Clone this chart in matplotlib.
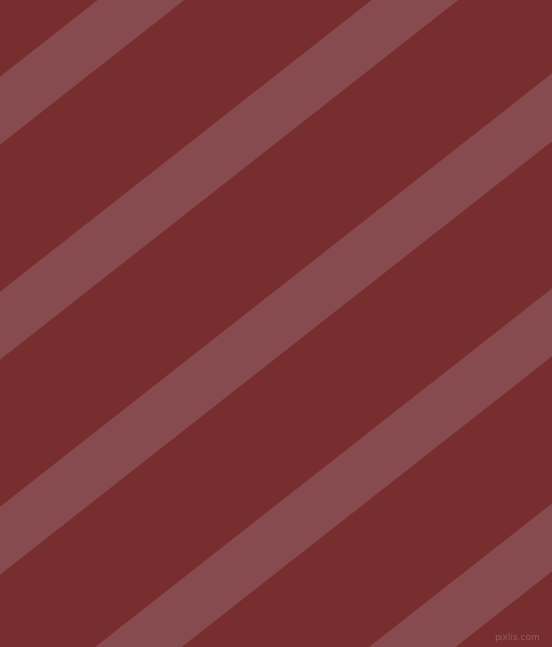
import matplotlib.pyplot as plt
import numpy as np

# stripe top edges where they meet the left border (px from top), slope and width
stripe_starts = [76.7, 291.7, 506.7, 721.7, 936.7]
stripe_width = 68
slope = 0.785

W, H = 552, 647
bg_color = '#782d2e'
stripe_color = '#874a4e'

fig = plt.figure(figsize=(W / 100, H / 100), dpi=100)
ax = fig.add_axes([0, 0, 1, 1])
ax.set_facecolor(bg_color)
fig.patch.set_facecolor(bg_color)

x = np.array([0, W])
for start in stripe_starts:
    top = start - slope * x
    ax.fill_between(x, top, top + stripe_width, color=stripe_color, linewidth=0)

ax.text(540, 637, 'pixlis.com', color='#9a6a6a', fontsize=6.5, ha='right', va='center', alpha=0.8)

ax.set_xlim(0, W)
ax.set_ylim(H, 0)
ax.axis('off')
plt.savefig('out.png', dpi=100, facecolor=bg_color)
